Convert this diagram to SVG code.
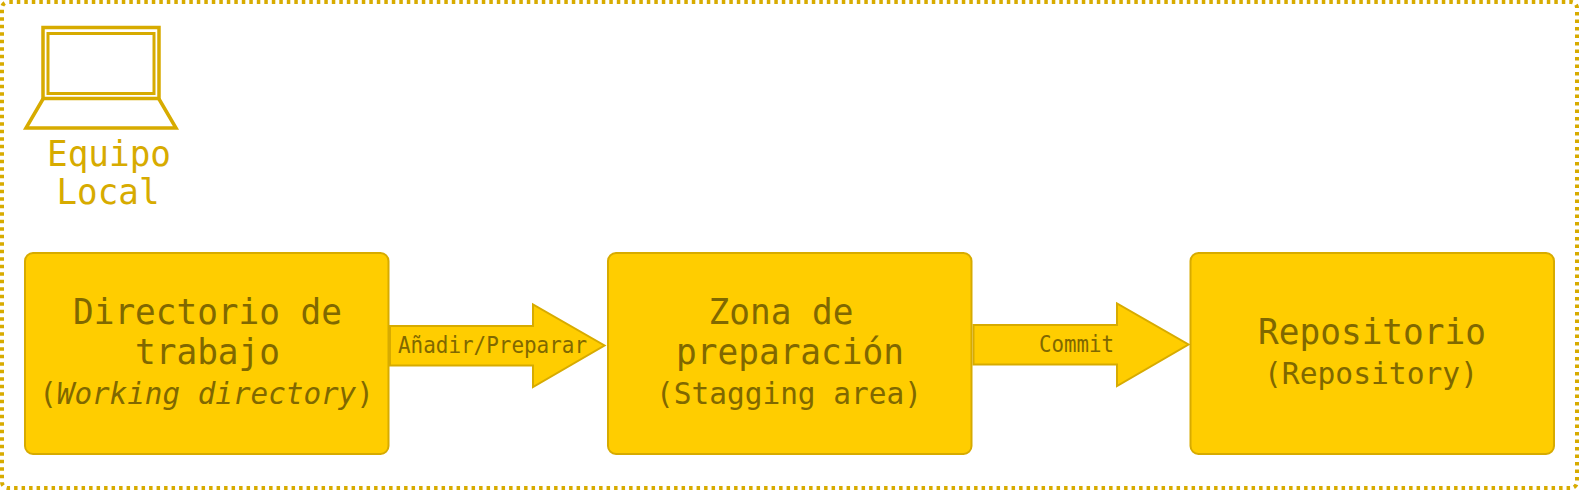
<svg xmlns="http://www.w3.org/2000/svg" width="1579" height="490" viewBox="0 0 1579 490">
<style>
text{font-family:"DejaVu Sans Mono",monospace;text-anchor:middle}
.box{fill:#ffcd00;stroke:#d7ab00;stroke-width:2}
.t{fill:#806800;font-size:36px}
.s{fill:#806800;font-size:30.500px}
.l{fill:#806800;font-size:22.500px}
.g{fill:#d7ab00;font-size:36px}
.ic{fill:none;stroke:#d7ab00}
</style>
<rect x="2" y="2" width="1575" height="486" rx="6" fill="#fff" stroke="#d7ab00" stroke-width="4" stroke-dasharray="3.500 4" stroke-dashoffset="-1.300"/>
<g id="equipo">
<rect class="ic" x="43" y="27.500" width="116" height="71" stroke-width="3.500"/>
<rect class="ic" x="48" y="33.500" width="106" height="60" stroke-width="3"/>
<path class="ic" d="M43 99 L26 128 H176 L159 99" stroke-width="3.500"/>
<text class="g" x="109" y="166" textLength="124" lengthAdjust="spacingAndGlyphs">Equipo</text>
<text class="g" x="108" y="204" textLength="103" lengthAdjust="spacingAndGlyphs">Local</text>
</g>
<g id="working">
<rect class="box" x="25" y="253" width="363.500" height="201" rx="8"/>
<text class="t" x="207.500" y="324" textLength="269" lengthAdjust="spacingAndGlyphs">Directorio de</text>
<text class="t" x="207.500" y="364" textLength="145" lengthAdjust="spacingAndGlyphs">trabajo</text>
<text class="s" transform="translate(206.500 403.500) scale(.96 1)">(<tspan font-style="italic">Working directory</tspan>)</text>
</g>
<g id="staging">
<rect class="box" x="608" y="253" width="363.500" height="201" rx="8"/>
<text class="t" x="781" y="324" textLength="145" lengthAdjust="spacingAndGlyphs">Zona de</text>
<text class="t" x="790" y="364" textLength="228" lengthAdjust="spacingAndGlyphs">preparación</text>
<text class="s" x="789" y="403.500" textLength="266" lengthAdjust="spacingAndGlyphs">(Stagging area)</text>
</g>
<g id="repo">
<rect class="box" x="1190.500" y="253" width="363.500" height="201" rx="8"/>
<text class="t" x="1372" y="344" textLength="228" lengthAdjust="spacingAndGlyphs">Repositorio</text>
<text class="s" x="1371" y="383.500" textLength="214" lengthAdjust="spacingAndGlyphs">(Repository)</text>
</g>
<g id="connectors">
<path class="box" d="M390 326 H533 V304.500 L604.500 345.500 L533 387 V365.500 H390 Z"/>
<text class="l" x="492.500" y="352.500" textLength="189" lengthAdjust="spacingAndGlyphs">Añadir/Preparar</text>
<path class="box" d="M973.500 325 H1117 V303.500 L1188.500 344.500 L1117 386 V364.500 H973.500 Z"/>
<text class="l" x="1076.500" y="352" textLength="75" lengthAdjust="spacingAndGlyphs">Commit</text>
</g>
</svg>
